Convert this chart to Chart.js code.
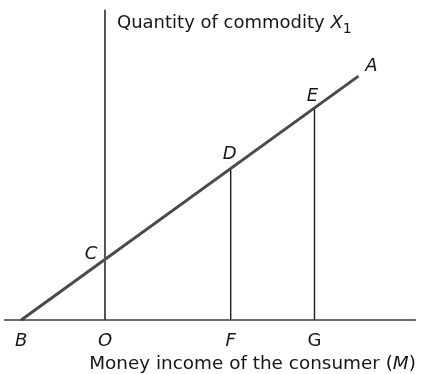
<!DOCTYPE html>
<html>
<head>
<meta charset="utf-8">
<script src="https://cdn.jsdelivr.net/npm/chart.js@4"></script>
<style>
  html, body { margin: 0; padding: 0; background: #ffffff; }
  #wrap { width: 421px; height: 374px; }
</style>
</head>
<body>
<div id="wrap"><canvas id="c" width="421" height="374"></canvas></div>
<script>
// ---- data (income units on x, quantity units on y) ----
const incomeLineX = [-2, 6.05];          // line B ... A
const quantityLineY = [0, 4.025];
const dropX = [3, 5];                    // F, G
const dropTopY = [2.5, 3.5];             // D, E
const xAxisSpan = [-2.41, 7.42];
const yAxisSpan = [0, 5.12];
const pointNames = ['C', 'D', 'E', 'A'];
const pointX = [0, 3, 5, 6.05];
const pointY = [1, 2.5, 3.5, 4.025];
const tickNames = ['B', 'O', 'F', 'G'];
const tickX = [-2, 0, 3, 5];
const tickItalic = [true, true, true, false];
const yTitle = ['Quantity of commodity ', 'X', '1'];
const xTitle = ['Money income of the consumer (', 'M', ')'];

const FONT = '"DejaVu Sans", sans-serif';
const FS = 18;
const FSX = 18.4;

const datasets = [
  { data: [{x: xAxisSpan[0], y: 0}, {x: xAxisSpan[1], y: 0}], borderColor: '#3a3a3a', borderWidth: 1.6 },
  { data: [{x: 0, y: yAxisSpan[0]}, {x: 0, y: yAxisSpan[1]}], borderColor: '#555555', borderWidth: 2 },
  { data: [{x: incomeLineX[0], y: quantityLineY[0]}, {x: incomeLineX[1], y: quantityLineY[1]}], borderColor: '#4a4a4a', borderWidth: 3 }
];
dropX.forEach((x, i) => {
  datasets.push({ data: [{x: x, y: 0}, {x: x, y: dropTopY[i]}], borderColor: '#1a1a1a', borderWidth: 1.4 });
});
datasets.forEach(d => { d.showLine = true; d.pointRadius = 0; d.fill = false; d.tension = 0; d.borderCapStyle = 'butt'; });

const labelPlugin = {
  id: 'labels',
  afterDatasetsDraw(chart) {
    const ctx = chart.ctx;
    const xs = chart.scales.x, ys = chart.scales.y;
    ctx.save();
    ctx.fillStyle = '#161616';
    ctx.textBaseline = 'alphabetic';
    const off = { C: [-14, 0], D: [-1, -10], E: [-2, -7], A: [13, -5] };
    pointNames.forEach((n, i) => {
      const px = xs.getPixelForValue(pointX[i]) + off[n][0];
      const py = ys.getPixelForValue(pointY[i]) + off[n][1];
      ctx.font = 'italic ' + FS + 'px ' + FONT;
      ctx.textAlign = 'center';
      ctx.fillText(n, px, py);
    });
    tickNames.forEach((n, i) => {
      const px = xs.getPixelForValue(tickX[i]);
      const py = ys.getPixelForValue(0) + 26;
      ctx.font = (tickItalic[i] ? 'italic ' : '') + FS + 'px ' + FONT;
      ctx.textAlign = 'center';
      ctx.fillText(n, px, py);
    });
    // y title
    ctx.textAlign = 'left';
    let tx = xs.getPixelForValue(0) + 12;
    const ty = ys.getPixelForValue(yAxisSpan[1]) + 18;
    ctx.font = FS + 'px ' + FONT;
    ctx.fillText(yTitle[0], tx, ty);
    tx += ctx.measureText(yTitle[0]).width;
    ctx.font = 'italic ' + FS + 'px ' + FONT;
    ctx.fillText(yTitle[1], tx, ty);
    tx += ctx.measureText(yTitle[1]).width;
    ctx.font = Math.round(FS * 0.75) + 'px ' + FONT;
    ctx.fillText(yTitle[2], tx, ty + 5);
    // x title (right aligned at end of axis)
    const right = xs.getPixelForValue(xAxisSpan[1]);
    const bx = ys.getPixelForValue(0) + 49;
    ctx.font = FSX + 'px ' + FONT;
    const w0 = ctx.measureText(xTitle[0]).width, w2 = ctx.measureText(xTitle[2]).width;
    ctx.font = 'italic ' + FSX + 'px ' + FONT;
    const w1 = ctx.measureText(xTitle[1]).width;
    let sx = right - (w0 + w1 + w2);
    ctx.font = FSX + 'px ' + FONT;
    ctx.fillText(xTitle[0], sx, bx);
    ctx.font = 'italic ' + FSX + 'px ' + FONT;
    ctx.fillText(xTitle[1], sx + w0, bx);
    ctx.font = FSX + 'px ' + FONT;
    ctx.fillText(xTitle[2], sx + w0 + w1, bx);
    ctx.restore();
  }
};

new Chart(document.getElementById('c'), {
  type: 'scatter',
  data: { datasets: datasets },
  options: {
    responsive: false,
    animation: false,
    devicePixelRatio: 1,
    layout: { padding: 0 },
    plugins: { legend: { display: false }, tooltip: { enabled: false } },
    scales: {
      x: { type: 'linear', display: false, min: -2.506, max: 7.542 },
      y: { type: 'linear', display: false, min: -0.891, max: 5.281 }
    }
  },
  plugins: [labelPlugin]
});
</script>
</body>
</html>
